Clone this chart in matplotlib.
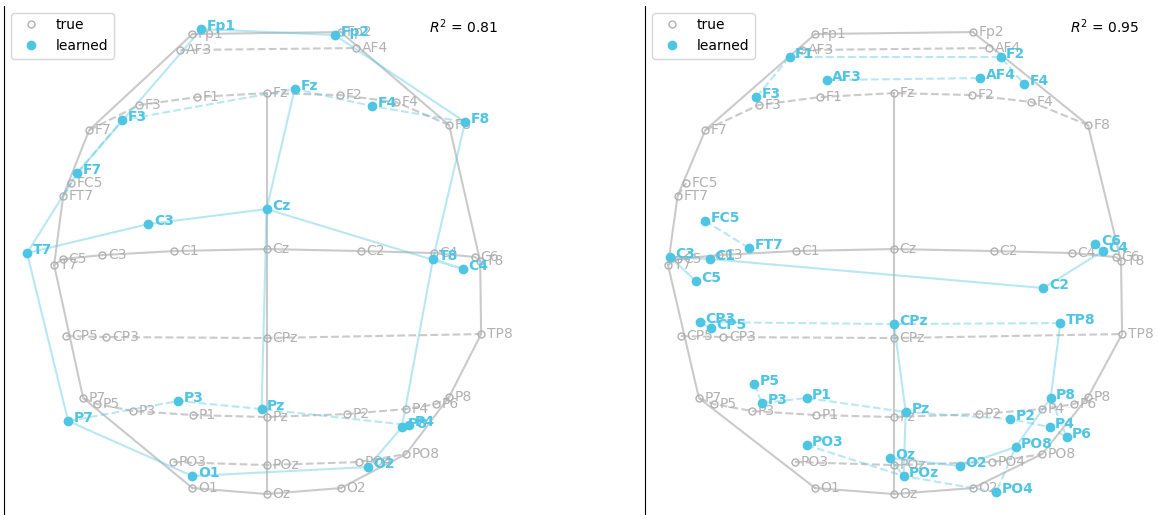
import matplotlib.pyplot as plt

# template montage (head coordinates)
names = ['Fp1', 'Fp2', 'AF3', 'AF4', 'F7', 'F3', 'F1', 'Fz', 'F2', 'F4', 'F8',
         'FC5', 'FT7', 'T7', 'C5', 'C3', 'C1', 'Cz', 'C2', 'C4', 'C6', 'T8',
         'CP5', 'CP3', 'CPz', 'TP8', 'P7', 'P5', 'P3', 'P1', 'Pz', 'P2', 'P4',
         'P6', 'P8', 'PO3', 'POz', 'PO4', 'PO8', 'O1', 'Oz', 'O2']
true_x = [-0.74, 0.74, -0.86, 0.89, -1.77, -1.27, -0.69, 0.00, 0.73, 1.29, 1.82,
          -1.95, -2.03, -2.12, -2.03, -1.64, -0.92, 0.00, 0.94, 1.67, 2.08, 2.13,
          -2.00, -1.60, 0.00, 2.14, -1.83, -1.69, -1.33, -0.73, 0.00, 0.80, 1.39,
          1.69, 1.82, -0.93, 0.00, 0.92, 1.39, -0.74, 0.00, 0.74]
true_y = [2.15, 2.17, 1.99, 2.01, 1.19, 1.44, 1.52, 1.56, 1.54, 1.47, 1.24,
          0.66, 0.53, -0.16, -0.10, -0.06, -0.02, 0.00, -0.02, -0.04, -0.08, -0.12,
          -0.87, -0.88, -0.89, -0.85, -1.49, -1.55, -1.62, -1.66, -1.68, -1.65, -1.60,
          -1.55, -1.48, -2.13, -2.16, -2.13, -2.05, -2.39, -2.45, -2.39]

# 19-channel run
names_a = ['Fp1', 'Fp2', 'F7', 'F3', 'Fz', 'F4', 'F8', 'T7', 'C3', 'Cz', 'C4',
           'T8', 'P7', 'P3', 'Pz', 'P4', 'P8', 'O1', 'O2']
learned_a_x = [-0.65, 0.68, -1.89, -1.44, 0.28, 1.05, 1.98, -2.39, -1.18, 0.00, 1.96,
               1.66, -1.98, -0.88, -0.05, 1.42, 1.35, -0.74, 1.01]
learned_a_y = [2.20, 2.14, 0.76, 1.29, 1.60, 1.43, 1.27, -0.04, 0.25, 0.40, -0.20,
               -0.10, -1.72, -1.52, -1.60, -1.76, -1.78, -2.27, -2.18]
r2_a = 0.81

# 32-channel run
names_b = ['F1', 'F3', 'AF3', 'AF4', 'F2', 'F4', 'FC5', 'FT7', 'C3', 'C1', 'C5',
           'C2', 'C4', 'C6', 'CP3', 'CP5', 'CPz', 'TP8', 'P5', 'P3', 'P1', 'Pz',
           'P2', 'P4', 'P6', 'P8', 'PO3', 'PO8', 'PO4', 'Oz', 'POz', 'O2']
learned_b_x = [-0.98, -1.29, -0.63, 0.81, 1.00, 1.22, -1.77, -1.36, -2.10, -1.73, -1.86,
               1.40, 1.96, 1.89, -1.82, -1.72, 0.00, 1.56, -1.31, -1.24, -0.82, 0.11,
               1.09, 1.46, 1.62, 1.47, -0.82, 1.14, 0.96, -0.04, 0.09, 0.62]
learned_b_y = [1.92, 1.52, 1.69, 1.71, 1.92, 1.65, 0.28, 0.01, -0.08, -0.10, -0.32,
               -0.39, -0.02, 0.05, -0.73, -0.79, -0.75, -0.74, -1.35, -1.54, -1.49, -1.63,
               -1.70, -1.78, -1.88, -1.49, -1.96, -1.98, -2.43, -2.09, -2.27, -2.17]
r2_b = 0.95

# rows and columns of the montage grid
chains = [
    (['Fp1', 'Fp2'], '-'),
    (['AF3', 'AF4'], '--'),
    (['F7', 'F3', 'F1', 'Fz', 'F2', 'F4', 'F8'], '--'),
    (['FT7', 'FC5'], '--'),
    (['T7', 'C5', 'C3', 'C1', 'Cz', 'C2', 'C4', 'C6', 'T8'], '-'),
    (['CP5', 'CP3', 'CPz', 'TP8'], '--'),
    (['P7', 'P5', 'P3', 'P1', 'Pz', 'P2', 'P4', 'P6', 'P8'], '--'),
    (['PO3', 'POz', 'PO4', 'PO8'], '--'),
    (['O1', 'Oz', 'O2'], '-'),
    (['Fp1', 'F7', 'FT7', 'T7', 'P7', 'O1'], '-'),
    (['Fz', 'Cz', 'CPz', 'Pz', 'POz', 'Oz'], '-'),
    (['Fp2', 'F8', 'T8', 'TP8', 'P8', 'PO8', 'O2'], '-'),
]

blue = '#4ec5e3'
grey = '#b0b0b0'


def draw(ax, lnames, lx, ly, r2):
    tpos = dict(zip(names, zip(true_x, true_y)))
    lpos = dict(zip(lnames, zip(lx, ly)))
    for chain, ls in chains:
        pts = [tpos[n] for n in chain]
        ax.plot([p[0] for p in pts], [p[1] for p in pts], ls=ls,
                color='#bdbdbd', lw=1.5, alpha=0.8, zorder=1)
        pts = [lpos[n] for n in chain if n in lpos]
        if len(pts) > 1:
            ax.plot([p[0] for p in pts], [p[1] for p in pts], ls=ls,
                    color=blue, lw=1.5, alpha=0.4, zorder=2)

    ax.plot(true_x, true_y, 'o', mfc='none', mec=grey, ms=5, mew=1,
            label='true', zorder=3)
    for n, x, y in zip(names, true_x, true_y):
        ax.annotate(n, (x, y), xytext=(4, 0), textcoords='offset points',
                    va='center', color=grey, fontsize=10, zorder=3)

    ax.plot(lx, ly, 'o', color=blue, ms=6, label='learned', zorder=4)
    for n, x, y in zip(lnames, lx, ly):
        ax.annotate(n, (x, y), xytext=(4, 2), textcoords='offset points',
                    va='center', color=blue, fontsize=10, fontweight='bold',
                    zorder=5)

    ax.legend(loc='upper left')
    ax.text(0.85, 0.946, r'$R^2$ = %.2f' % r2, transform=ax.transAxes,
            va='baseline', fontsize=10)
    for s in ('top', 'right', 'bottom'):
        ax.spines[s].set_visible(False)
    ax.set_xticks([])
    ax.set_yticks([])


fig = plt.figure(figsize=(11.58, 5.15), dpi=100)
ax1 = fig.add_axes([4.35 / 1158, -2.3 / 515, 499.5 / 1158, 511.5 / 515])
ax2 = fig.add_axes([645.3 / 1158, -2.3 / 515, 499.5 / 1158, 511.5 / 515], sharey=ax1)

draw(ax1, names_a, learned_a_x, learned_a_y, r2_a)
draw(ax2, names_b, learned_b_x, learned_b_y, r2_b)

plt.savefig('out.png')
